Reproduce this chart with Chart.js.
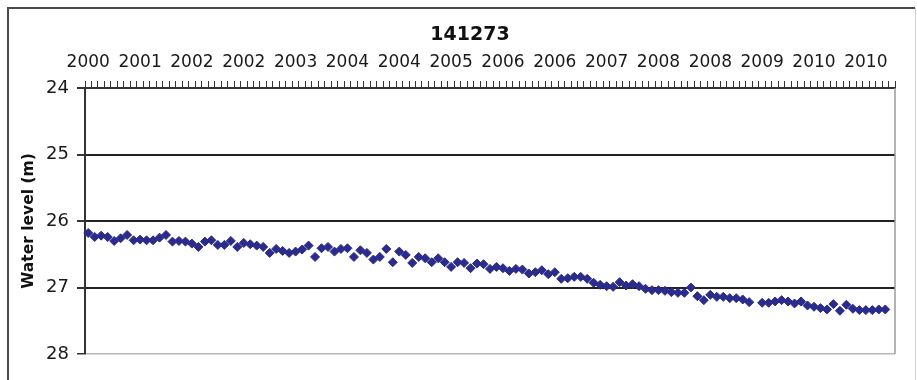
<!DOCTYPE html>
<html>
<head>
<meta charset="utf-8">
<title>141273</title>
<script src="https://cdn.jsdelivr.net/npm/chart.js@4"></script>
<style>
  html, body { margin: 0; padding: 0; background: #ffffff; }
  #wrap { width: 917px; height: 380px; position: relative; }
</style>
</head>
<body>
<div id="wrap"><canvas id="chart" width="917" height="380"></canvas></div>
<script>
// Well 141273 – monthly water level readings (m below reference)
const chartTitle = '141273';
const yAxisTitle = 'Water level (m)';

// Year labels shown on every 8th monthly reading
const yearTicks = ['2000', '2001', '2002', '2002', '2003', '2004', '2004', '2005',
                   '2006', '2006', '2007', '2008', '2008', '2009', '2010', '2010'];
const tickEvery = 8;

// Water level per monthly reading (null = no reading)
const waterLevel = [
  26.18, 26.24, 26.22, 26.24, 26.30, 26.26, 26.21, 26.29, 26.28, 26.29,
  26.29, 26.25, 26.21, 26.31, 26.30, 26.31, 26.34, 26.39, 26.31, 26.29,
  26.36, 26.36, 26.30, 26.39, 26.33, 26.35, 26.37, 26.39, 26.48, 26.42,
  26.45, 26.48, 26.46, 26.43, 26.37, 26.54, 26.41, 26.39, 26.46, 26.42,
  26.41, 26.54, 26.44, 26.48, 26.58, 26.54, 26.42, 26.62, 26.46, 26.51,
  26.63, 26.54, 26.56, 26.62, 26.56, 26.62, 26.69, 26.62, 26.63, 26.71,
  26.64, 26.65, 26.72, 26.69, 26.71, 26.75, 26.72, 26.73, 26.79, 26.77,
  26.74, 26.80, 26.77, 26.87, 26.86, 26.84, 26.84, 26.87, 26.93, 26.96,
  26.98, 26.99, 26.92, 26.97, 26.95, 26.98, 27.02, 27.04, 27.04, 27.05,
  27.07, 27.08, 27.08, 27.00, 27.13, 27.19, 27.11, 27.14, 27.14, 27.16,
  27.16, 27.18, 27.22, null,  27.23, 27.23, 27.21, 27.19, 27.21, 27.24,
  27.21, 27.27, 27.29, 27.31, 27.33, 27.25, 27.35, 27.26, 27.32, 27.34,
  27.34, 27.34, 27.33, 27.33, null
];

// Category labels: a year at every tick step, blank in between
const categories = waterLevel.map((_, i) => (i % tickEvery === 0 ? (yearTicks[i / tickEvery] || '') : ''));

const yMin = 24, yMax = 28;

Chart.defaults.font.family = "'DejaVu Sans', 'Liberation Sans', Arial, sans-serif";
Chart.defaults.color = '#1a1a1a';

// Frame around the figure, plot border and the chart title
const decorations = {
  id: 'decorations',
  beforeDraw(chart) {
    const { ctx } = chart;
    ctx.save();
    ctx.fillStyle = '#ffffff';
    ctx.fillRect(0, 0, chart.width, chart.height);
    ctx.restore();
  },
  afterDraw(chart) {
    const { ctx, chartArea: a } = chart;
    ctx.save();
    // right edge of the plot area
    ctx.strokeStyle = '#9a9a9a';
    ctx.lineWidth = 1.5;
    ctx.beginPath();
    ctx.moveTo(a.right, a.top);
    ctx.lineTo(a.right, a.bottom);
    ctx.stroke();
    // outer frame
    ctx.strokeStyle = '#4a4a4a';
    ctx.lineWidth = 2;
    ctx.beginPath();
    ctx.moveTo(8, chart.height);
    ctx.lineTo(8, 8);
    ctx.lineTo(915, 8);
    ctx.stroke();
    ctx.strokeStyle = '#d0d0d0';
    ctx.lineWidth = 1;
    ctx.beginPath();
    ctx.moveTo(915.5, 8);
    ctx.lineTo(915.5, chart.height);
    ctx.stroke();
    // title
    ctx.fillStyle = '#111111';
    ctx.font = "bold 19px 'DejaVu Sans', sans-serif";
    ctx.textAlign = 'center';
    ctx.textBaseline = 'alphabetic';
    ctx.fillText(chartTitle, 470, 40);
    ctx.restore();
  }
};

new Chart(document.getElementById('chart'), {
  type: 'line',
  data: {
    labels: categories,
    datasets: [{
      data: waterLevel,
      showLine: false,
      pointStyle: 'rectRot',
      pointRadius: 4.5,
      pointBorderWidth: 1,
      pointBackgroundColor: '#2b2b8c',
      pointBorderColor: '#2b2b8c'
    }]
  },
  options: {
    responsive: false,
    animation: false,
    events: [],
    layout: { padding: { top: 40, left: 10, right: 22, bottom: 26 } },
    plugins: {
      legend: { display: false },
      tooltip: { enabled: false },
      title: { display: false }
    },
    scales: {
      x: {
        type: 'category',
        position: 'top',
        offset: true,
        afterFit: (s) => { s.height = 48; },
        grid: {
          offset: true,
          drawOnChartArea: false,
          drawTicks: true,
          tickLength: 7,
          tickColor: '#333333',
          lineWidth: 1
        },
        border: { display: true, color: '#333333', width: 2 },
        ticks: {
          autoSkip: false,
          maxRotation: 0,
          minRotation: 0,
          padding: 8,
          color: '#1a1a1a',
          font: { size: 17 }
        }
      },
      y: {
        reverse: true,
        min: yMin,
        max: yMax,
        afterFit: (s) => { s.width = 75; },
        ticks: {
          stepSize: 1,
          padding: 8,
          color: '#1a1a1a',
          font: { size: 18 }
        },
        grid: {
          color: (c) => (c.tick && c.tick.value === yMax ? '#b5b5b5' : '#222222'),
          lineWidth: (c) => (c.tick && c.tick.value === yMax ? 1.5 : 2),
          tickColor: '#333333',
          tickLength: 8
        },
        border: { display: true, color: '#333333', width: 2 },
        title: {
          display: true,
          text: yAxisTitle,
          color: '#111111',
          font: { size: 15.5, weight: 'bold' },
          padding: { top: 10, bottom: 0 }
        }
      }
    }
  },
  plugins: [decorations]
});
</script>
</body>
</html>
